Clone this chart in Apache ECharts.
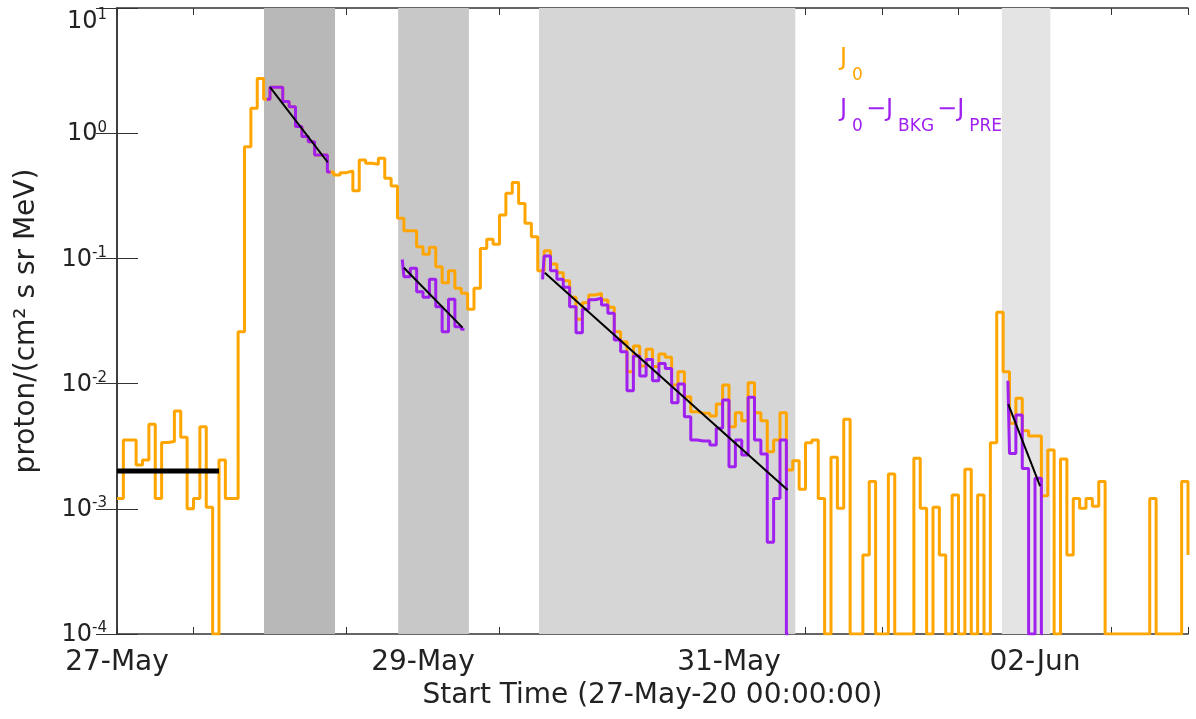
<!DOCTYPE html>
<html>
<head>
<meta charset="utf-8">
<script src="https://cdn.jsdelivr.net/npm/echarts@6/dist/echarts.min.js"></script>
<style>
html,body{margin:0;padding:0;background:#fff;}
#chart{width:1196px;height:719px;}
</style>
</head>
<body>
<div id="chart"></div>
<script>
// ---------------- DATA ----------------
// Hourly bins starting 27-May-2020 00:00 (x in hours). 1e-4 = at/below axis floor.
const orangeVals = [
  1.21e-3, 3.55e-3, 3.55e-3, 2.24e-3, 2.45e-3, 4.73e-3, 1.21e-3, 3.38e-3, 3.45e-3, 6.04e-3,
  3.72e-3, 1.0e-3, 1.21e-3, 4.53e-3, 1.03e-3, 1e-4, 2.45e-3, 1.21e-3, 1.21e-3, 0.026,
  0.78, 1.58, 2.74, 1.87, 2.33, 2.33, 1.79, 1.63, 1.13, 0.94,
  0.855, 0.67, 0.67, 0.49, 0.464, 0.484, 0.499, 0.347, 0.611, 0.575,
  0.565, 0.630, 0.436, 0.379, 0.209, 0.166, 0.166, 0.124, 0.108, 0.123,
  0.0859, 0.064, 0.0798, 0.0577, 0.0526, 0.0392, 0.0577, 0.120, 0.142, 0.130,
  0.222, 0.331, 0.403, 0.275, 0.191, 0.149, 0.0798, 0.115, 0.0902, 0.0769,
  0.0664, 0.0489, 0.0326, 0.0443, 0.0510, 0.0526, 0.0466, 0.0407, 0.0260, 0.0216,
  0.01245, 0.0200, 0.0138, 0.0188, 0.0137, 0.0172, 0.0162, 0.00975, 0.01245, 0.00786,
  0.00597, 0.0058, 0.0058, 0.00551, 0.00687, 0.00975, 0.00453, 0.00586, 0.00506, 0.01016,
  0.00586, 0.00506, 0.00286, 0.00355, 0.00586, 0.00204, 0.00242, 0.00143, 0.00337, 0.00355,
  0.00121, 1e-4, 0.00258, 0.00101, 0.00519, 1e-4, 1e-4, 4.28e-4, 1.65e-3, 1e-4,
  1e-4, 1.90e-3, 1e-4, 1e-4, 1e-4, 2.53e-3, 1.01e-3, 1e-4, 1.03e-3, 4.28e-4,
  1e-4, 1.29e-3, 1e-4, 2.07e-3, 1e-4, 1.29e-3, 1e-4, 3.37e-3, 0.0371, 0.01245,
  0.00482, 0.00763, 0.00421, 0.00381, 0.00381, 0.00127, 0.00295, 1e-4, 0.00250, 4.28e-4,
  1.21e-3, 1.01e-3, 1.21e-3, 1.05e-3, 1.65e-3, 1e-4, 1e-4, 1e-4, 1e-4, 1e-4,
  1e-4, 1e-4, 1.21e-3, 1e-4, 1e-4, 1e-4, 1e-4, 1.65e-3
];
const orangeNextVal = 4.28e-4; // following (clipped) bin at right edge

// J0 - JBKG - JPRE segments: [hour, value]
const purpleSeg1 = [[23.5,1.87],[24,2.33],[25,2.33],[26,1.79],[27,1.63],[28,1.13],[29,0.94],[30,0.855],[31,0.67],[32,0.67],[33,0.49],[33.5,0.49]];
const purpleSeg2 = [[44.75,0.098],[45,0.0714],[46,0.0833],[47,0.0542],[48,0.0489],[49,0.0681],[50,0.0411],[51,0.0260],[52,0.0471],[53,0.0285],[54,0.0272],[54.5,0.0272]];
const purpleSeg3 = [[66.75,0.068],[67,0.1045],[68,0.0798],[69,0.068],[70,0.0588],[71,0.0411],[72,0.0255],[73,0.0392],[74,0.0467],[75,0.048],[76,0.0425],[77,0.0365],[78,0.0223],[79,0.0180],[80,0.00878],[81,0.0166],[82,0.0115],[83,0.0156],[84,0.01054],[85,0.0145],[86,0.0132],[87,0.00704],[88,0.00993],[89,0.00544],[90,0.00355],[91,0.00348],[92,0.00348],[93,0.00324],[94,0.0044],[95,0.0074],[96,0.00217],[97,0.00355],[98,0.00269],[99,0.00778],[100,0.00355],[101,0.00274],[102,0.00054],[103,0.00121],[104,0.00355],[105,1e-4],[105.3,1e-4]];
const purpleSeg4 = [[139.75,0.01054],[140,0.00277],[141,0.00561],[142,0.0021],[143,1e-4],[144,0.00175],[145,1e-4],[145.2,1e-4]];

// exponential fits (endpoints) and background level
const fit1 = [[24.0,2.33],[33.05,0.586]];
const fit2 = [[45.0,0.0843],[54.2,0.028]];
const fit3 = [[67.1,0.0769],[105.2,1.41e-3]];
const fit4 = [[139.8,6.87e-3],[144.8,1.52e-3]];
const bkgLine = [[0,2.0e-3],[16,2.0e-3]];

// shaded intervals (hours)
const regions = [[23.06,34.2],[44.1,55.2],[66.2,106.4],[138.8,146.4]];
const regionColors = ['#b8b8b8','#c8c8c8','#d6d6d6','#e4e4e4'];

// x tick labels
const tickHours = [0,48,96,144];
const tickLabels = ['27-May','29-May','31-May','02-Jun'];

// ---------------- CHART ----------------
const FONT = 'DejaVu Sans';
const orangeData = orangeVals.map((v,i)=>[i,v]);
orangeData.push([orangeVals.length, orangeNextVal]);

const chart = echarts.init(document.getElementById('chart'), null, {renderer:'canvas'});

function stepSeries(data, color, z){
  return {type:'line', data, step:'end', symbol:'none', showSymbol:false, z,
    lineStyle:{color, width:3}, itemStyle:{color}, animation:false, silent:true};
}
function fitSeries(data, width){
  return {type:'line', data, symbol:'none', showSymbol:false, z:10,
    lineStyle:{color:'#000', width}, animation:false, silent:true};
}

const axisLineStyle = {color:'#333', width:1.5};

function legendRich(color){
  return {
    j:{fontSize:24, lineHeight:24, verticalAlign:'top', fill:color, fontFamily:FONT, padding:[0,0,0,0]},
    m:{fontSize:24, lineHeight:24, verticalAlign:'top', fill:color, fontFamily:FONT, padding:[0,0,0,3]},
    s:{fontSize:17, lineHeight:17, verticalAlign:'top', fill:color, fontFamily:FONT, padding:[20,0,0,5]}
  };
}

const option = {
  animation:false,
  backgroundColor:'#fff',
  grid:{left:117, right:8, top:8, bottom:85, containLabel:false},
  xAxis:[{
    type:'value', min:0, max:168, interval:12, position:'bottom',
    axisLine:{show:true, lineStyle:axisLineStyle},
    axisTick:{show:true, inside:true, length:7, lineStyle:{color:'#333'}},
    splitLine:{show:false},
    axisLabel:{
      margin:15, fontSize:28, fontFamily:FONT, color:'#222',
      showMinLabel:true, showMaxLabel:true,
      formatter:function(v){ const k = tickHours.indexOf(Math.round(v)); return k>=0 ? tickLabels[k] : ''; }
    },
    name:'Start Time (27-May-20 00:00:00)', nameLocation:'middle', nameGap:45,
    nameTextStyle:{fontSize:28, fontFamily:FONT, color:'#222'}
  },{
    type:'value', min:0, max:168, interval:12, position:'top',
    axisLine:{show:true, lineStyle:axisLineStyle},
    axisTick:{show:true, inside:true, length:7, lineStyle:{color:'#333'}},
    axisLabel:{show:false}, splitLine:{show:false}
  }],
  yAxis:[{
    type:'log', logBase:10, min:1e-4, max:10, position:'left',
    axisLine:{show:true, lineStyle:axisLineStyle},
    axisTick:{show:true, inside:true, length:21, lineStyle:{color:'#333'}},
    minorTick:{show:false}, splitLine:{show:false},
    axisLabel:{
      margin:10, color:'#222', fontFamily:FONT,
      verticalAlignMaxLabel:'top',
      formatter:function(v){ const e = Math.round(Math.log10(v)); return '{b|10}{s|' + e + '}'; },
      rich:{
        b:{fontSize:24, lineHeight:26, verticalAlign:'bottom', fontFamily:FONT, color:'#222'},
        s:{fontSize:15, lineHeight:14, verticalAlign:'top', fontFamily:FONT, color:'#222'}
      }
    },
    name:'proton/(cm² s sr MeV)', nameLocation:'middle', nameGap:76, nameRotate:90,
    nameTextStyle:{fontSize:28, fontFamily:FONT, color:'#222'}
  },{
    type:'log', logBase:10, min:1e-4, max:10, position:'right',
    axisLine:{show:true, lineStyle:axisLineStyle},
    axisTick:{show:true, inside:true, length:21, lineStyle:{color:'#333'}},
    axisLabel:{show:false}, splitLine:{show:false}
  }],
  series:[
    {type:'line', data:[], z:0, silent:true,
     markArea:{silent:true, data: regions.map((r,i)=>[{xAxis:r[0], itemStyle:{color:regionColors[i], opacity:1}},{xAxis:r[1]}])}},
    stepSeries(orangeData, '#FFA500', 3),
    stepSeries(purpleSeg1, '#A020F0', 4),
    stepSeries(purpleSeg2, '#A020F0', 4),
    stepSeries(purpleSeg3, '#A020F0', 4),
    stepSeries(purpleSeg4, '#A020F0', 4),
    fitSeries(fit1, 2), fitSeries(fit2, 2), fitSeries(fit3, 2), fitSeries(fit4, 2),
    fitSeries(bkgLine, 5)
  ],
  graphic:[
    {type:'text', left:840, top:47, z:100, style:{
      text:'{j|J}{s|0}', rich:legendRich('#FFA500')}},
    {type:'text', left:840, top:98, z:100, style:{
      text:'{j|J}{s|0}{m|−}{j|J}{s|BKG}{m|−}{j|J}{s|PRE}', rich:legendRich('#A020F0')}}
  ]
};
chart.setOption(option);
</script>
</body>
</html>
